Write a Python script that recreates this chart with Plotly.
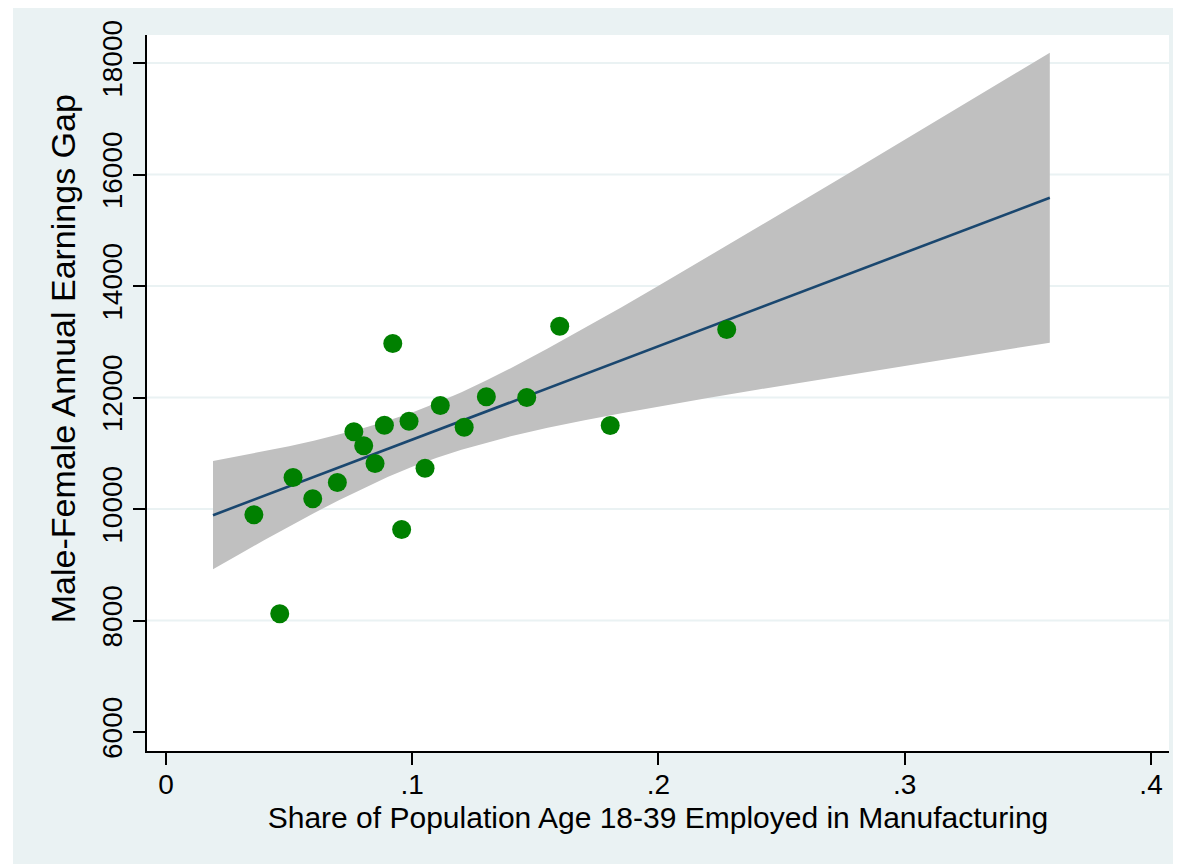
import plotly.graph_objects as go

# Scatter points: share employed in manufacturing vs earnings gap
share = [0.0357, 0.0462, 0.0516, 0.0596, 0.0696, 0.0763, 0.0803, 0.0849, 0.0887, 0.0921,
         0.0957, 0.0987, 0.1052, 0.1114, 0.1211, 0.1301, 0.1465, 0.1599, 0.1804, 0.2277]
gap = [9896, 8120, 10565, 10183, 10475, 11385, 11134, 10816, 11503, 12969,
       9632, 11575, 10732, 11857, 11468, 12013, 12000, 13279, 11498, 13220]

# Fitted line and 95% CI band
fit_x = [0.0191, 0.03, 0.04, 0.05, 0.06, 0.07, 0.08, 0.09, 0.10, 0.11, 0.12, 0.13, 0.14,
         0.155, 0.17, 0.185, 0.20, 0.22, 0.24, 0.26, 0.28, 0.30, 0.32, 0.34, 0.3589]
fit_y = [9889, 10072, 10239, 10407, 10574, 10742, 10910, 11077, 11245, 11412, 11580, 11747, 11915,
         12167, 12418, 12669, 12921, 13256, 13591, 13927, 14262, 14597, 14932, 15267, 15584]
ci_up = [10859, 10949, 11035, 11127, 11224, 11330, 11449, 11581, 11733, 11904, 12095, 12303, 12525,
         12878, 13245, 13621, 14004, 14521, 15042, 15568, 16094, 16622, 17152, 17682, 18184]
ci_lo = [8919, 9195, 9443, 9687, 9924, 10154, 10371, 10573, 10757, 10920, 11065, 11191, 11305,
         11456, 11591, 11717, 11838, 11991, 12140, 12286, 12430, 12572, 12712, 12852, 12984]

x_ticks = [0, 0.1, 0.2, 0.3, 0.4]
x_ticktext = ["0", ".1", ".2", ".3", ".4"]
y_ticks = [6000, 8000, 10000, 12000, 14000, 16000, 18000]
y_ticktext = ["6000", "8000", "10000", "12000", "14000", "16000", "18000"]
y_grid = [8000, 10000, 12000, 14000, 16000, 18000]

FONT = "Liberation Sans, Arial, Helvetica, sans-serif"
BG = "#EAF2F3"

fig = go.Figure()
fig.add_trace(go.Scatter(
    x=fit_x + fit_x[::-1], y=ci_up + ci_lo[::-1],
    fill="toself", fillcolor="#C0C0C0", line=dict(width=0),
    mode="lines", hoverinfo="skip", showlegend=False))
fig.add_trace(go.Scatter(
    x=fit_x, y=fit_y, mode="lines",
    line=dict(color="#1A476F", width=2.6), showlegend=False))
fig.add_trace(go.Scatter(
    x=share, y=gap, mode="markers",
    marker=dict(color="#008000", size=19, line=dict(width=0)), showlegend=False))

shapes = []
for g in y_grid:
    shapes.append(dict(type="line", xref="paper", yref="y", x0=0, x1=1, y0=g, y1=g,
                       line=dict(color=BG, width=2), layer="below"))
# white strip at the left edge of the image
shapes.append(dict(type="rect", xref="paper", yref="paper", x0=-1, x1=-0.1311, y0=-1, y1=2,
                   fillcolor="white", line=dict(width=0), layer="below"))

fig.update_layout(
    width=1173, height=856,
    margin=dict(l=139, r=12, t=27, b=113),
    paper_bgcolor=BG, plot_bgcolor="white",
    font=dict(family=FONT, size=28, color="black"),
    shapes=shapes,
    annotations=[dict(
        text="Male-Female Annual Earnings Gap", textangle=-90,
        xref="paper", yref="paper", x=-0.0825, y=0.548,
        xanchor="center", yanchor="middle", showarrow=False,
        font=dict(size=34, family=FONT, color="black"))],
    xaxis=dict(
        range=[-0.0077, 0.4073], tickvals=x_ticks, ticktext=x_ticktext,
        showgrid=False, zeroline=False, showline=True, linecolor="black", linewidth=2,
        ticks="outside", ticklen=12, tickwidth=1.8, tickcolor="black",
        ticklabelstandoff=-5,
        tickfont=dict(size=28, family=FONT),
        title=dict(text="Share of Population Age 18-39 Employed in Manufacturing",
                   font=dict(size=30, family=FONT), standoff=8)),
    yaxis=dict(
        range=[5659, 18503], tickvals=y_ticks, ticktext=y_ticktext, tickangle=-90,
        showgrid=False, zeroline=False, showline=True, linecolor="black", linewidth=2,
        ticks="outside", ticklen=12, tickwidth=1.8, tickcolor="black",
        tickfont=dict(size=28, family=FONT)),
)

fig.write_html("out.html")
